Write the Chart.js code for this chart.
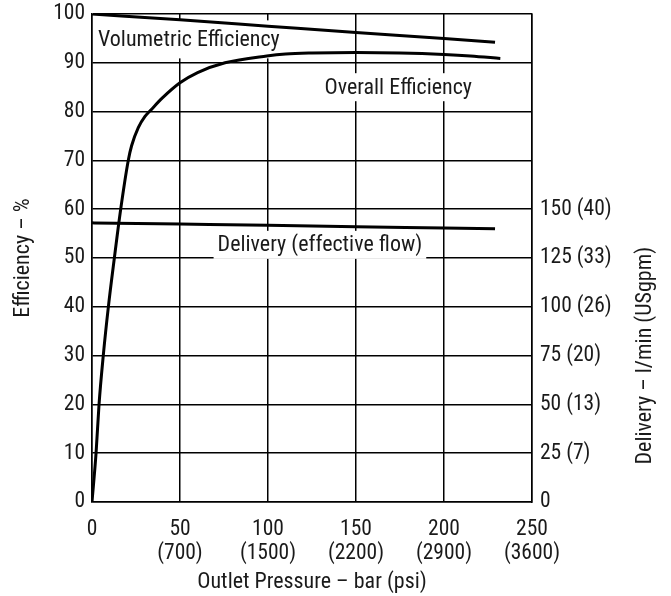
<!DOCTYPE html>
<html>
<head>
<meta charset="utf-8">
<script src="https://cdn.jsdelivr.net/npm/chart.js@4"></script>
<style>
  body { margin: 0; background: #fff; }
  canvas { display: block; }
</style>
</head>
<body>
<canvas id="myChart" width="671" height="596"></canvas>
<script>
// values
let volPressure = [0, 50, 100, 150, 200, 229];
let volEfficiency = [100, 98.8, 97.5, 96.2, 95.0, 94.2];

let overallPressure = [0, 2.3, 4, 6.4, 9.3, 12.7, 16.3, 20.6, 22.5, 26.3, 30.1, 33.9, 40, 50, 60, 75.6, 99.3, 110, 125, 150, 175, 200, 215, 232];
let overallEfficiency = [0, 10, 20, 30, 40, 50, 60, 70, 73, 76.7, 79, 80.5, 82.8, 85.9, 88, 90, 91.4, 91.8, 92.0, 92.1, 92.0, 91.7, 91.4, 90.9];

let deliveryPressure = [0, 50, 100, 150, 200, 229];
let deliveryFlow = [143, 142.4, 141.8, 141.0, 140.4, 140];

let xTickBar = ['0', '50', '100', '150', '200', '250'];
let xTickPsi = ['', '(700)', '(1500)', '(2200)', '(2900)', '(3600)'];
let rightTickValues = [0, 25, 50, 75, 100, 125, 150];
let rightTickLabels = ['0', '25 (7)', '50 (13)', '75 (20)', '100 (26)', '125 (33)', '150 (40)'];

const FONT = "'Roboto Condensed', 'Liberation Sans Narrow', 'DejaVu Sans Condensed', sans-serif";
const TEXT = '#1a1a1a';

function toPoints(xs, ys) {
    return xs.map((x, i) => ({ x: x, y: ys[i] }));
}

// curve captions, placed in data units
let captions = [
    { text: 'Volumetric Efficiency', x: 3.4, y: 94.8, align: 'left', boxH: 38 },
    { text: 'Overall Efficiency', x: 174, y: 85.0, align: 'center', boxH: 28 },
    { text: 'Delivery (effective flow)', x: 129.5, y: 52.7, align: 'center', boxH: 28 }
];

const captionPlugin = {
    id: 'captions',
    beforeDatasetsDraw(chart) {
        let ctx = chart.ctx;
        let xs = chart.scales.x, ys = chart.scales.y;
        ctx.save();
        ctx.font = '22px ' + FONT;
        ctx.textBaseline = 'middle';
        captions.forEach((c) => {
            let px = xs.getPixelForValue(c.x);
            let py = ys.getPixelForValue(c.y);
            let w = ctx.measureText(c.text).width;
            let left = c.align === 'left' ? px : px - w / 2;
            ctx.fillStyle = '#fff';
            ctx.fillRect(left - 4, py - c.boxH / 2, w + 8, c.boxH);
            ctx.fillStyle = TEXT;
            ctx.textAlign = 'left';
            ctx.fillText(c.text, left, py + 1);
        });
        ctx.restore();
    },
    afterDraw(chart) {
        // right axis title, centred on the labelled part of the axis
        let ctx = chart.ctx;
        let y1 = chart.scales.y1;
        let cy = (y1.getPixelForValue(0) + y1.getPixelForValue(150)) / 2;
        ctx.save();
        ctx.translate(645, cy);
        ctx.rotate(-Math.PI / 2);
        ctx.font = '22px ' + FONT;
        ctx.fillStyle = TEXT;
        ctx.textAlign = 'center';
        ctx.textBaseline = 'middle';
        ctx.fillText('Delivery – l/min (USgpm)', 0, 0);
        ctx.restore();
    }
};

// fixed axis sizes so the plot box sits where the reference has it
function fitWidth(w) {
    return (scale) => {
        scale.width = w;
        scale.paddingTop = 0;
        scale.paddingBottom = 0;
    };
}

function chart() {
    let ctx = document.getElementById('myChart').getContext('2d');
    let lineStyle = {
        borderColor: '#000',
        borderWidth: 3,
        pointRadius: 0,
        fill: false,
        cubicInterpolationMode: 'monotone'
    };
    new Chart(ctx, {
        type: 'line',
        data: {
            datasets: [
                Object.assign({ label: 'Volumetric Efficiency', data: toPoints(volPressure, volEfficiency), yAxisID: 'y' }, lineStyle),
                Object.assign({ label: 'Overall Efficiency', data: toPoints(overallPressure, overallEfficiency), yAxisID: 'y' }, lineStyle),
                Object.assign({ label: 'Delivery (effective flow)', data: toPoints(deliveryPressure, deliveryFlow), yAxisID: 'y1' }, lineStyle)
            ]
        },
        options: {
            responsive: false,
            animation: false,
            layout: { padding: { top: 14, left: 0, right: 0, bottom: 0 } },
            plugins: {
                legend: { display: false },
                tooltip: { enabled: false }
            },
            scales: {
                x: {
                    type: 'linear',
                    min: 0,
                    max: 250,
                    afterFit: (scale) => {
                        scale.height = 94;
                        scale.paddingLeft = 0;
                        scale.paddingRight = 0;
                    },
                    ticks: {
                        stepSize: 50,
                        color: TEXT,
                        padding: 16,
                        maxRotation: 0,
                        font: { family: FONT, size: 21.5, lineHeight: 1.1 },
                        callback: (value) => {
                            let i = value / 50;
                            return xTickPsi[i] ? [xTickBar[i], xTickPsi[i]] : xTickBar[i];
                        }
                    },
                    grid: { color: '#000', lineWidth: 1.5, drawTicks: false },
                    border: { color: '#000', width: 1.5 },
                    title: {
                        display: true,
                        text: 'Outlet Pressure – bar (psi)',
                        color: TEXT,
                        font: { family: FONT, size: 22 },
                        padding: { top: 0, bottom: 0 }
                    }
                },
                y: {
                    min: 0,
                    max: 100,
                    afterFit: fitWidth(92),
                    ticks: {
                        stepSize: 10,
                        color: TEXT,
                        padding: 7,
                        font: { family: FONT, size: 21.5 }
                    },
                    grid: { color: '#000', lineWidth: 1.5, drawTicks: false },
                    border: { color: '#000', width: 1.5 },
                    title: {
                        display: true,
                        text: 'Efficiency – %',
                        color: TEXT,
                        font: { family: FONT, size: 22 },
                        padding: { top: 10, bottom: 0 }
                    }
                },
                y1: {
                    position: 'right',
                    min: 0,
                    max: 250,
                    afterFit: fitWidth(139),
                    ticks: {
                        stepSize: 25,
                        color: TEXT,
                        padding: 8,
                        font: { family: FONT, size: 21.5 },
                        callback: (value) => {
                            let i = rightTickValues.indexOf(value);
                            return i >= 0 ? rightTickLabels[i] : '';
                        }
                    },
                    grid: { display: false, drawTicks: false },
                    border: { color: '#000', width: 1.5 }
                }
            }
        },
        plugins: [captionPlugin]
    });
}

window.addEventListener('DOMContentLoaded', (event) => {
    chart();
});
</script>
</body>
</html>
